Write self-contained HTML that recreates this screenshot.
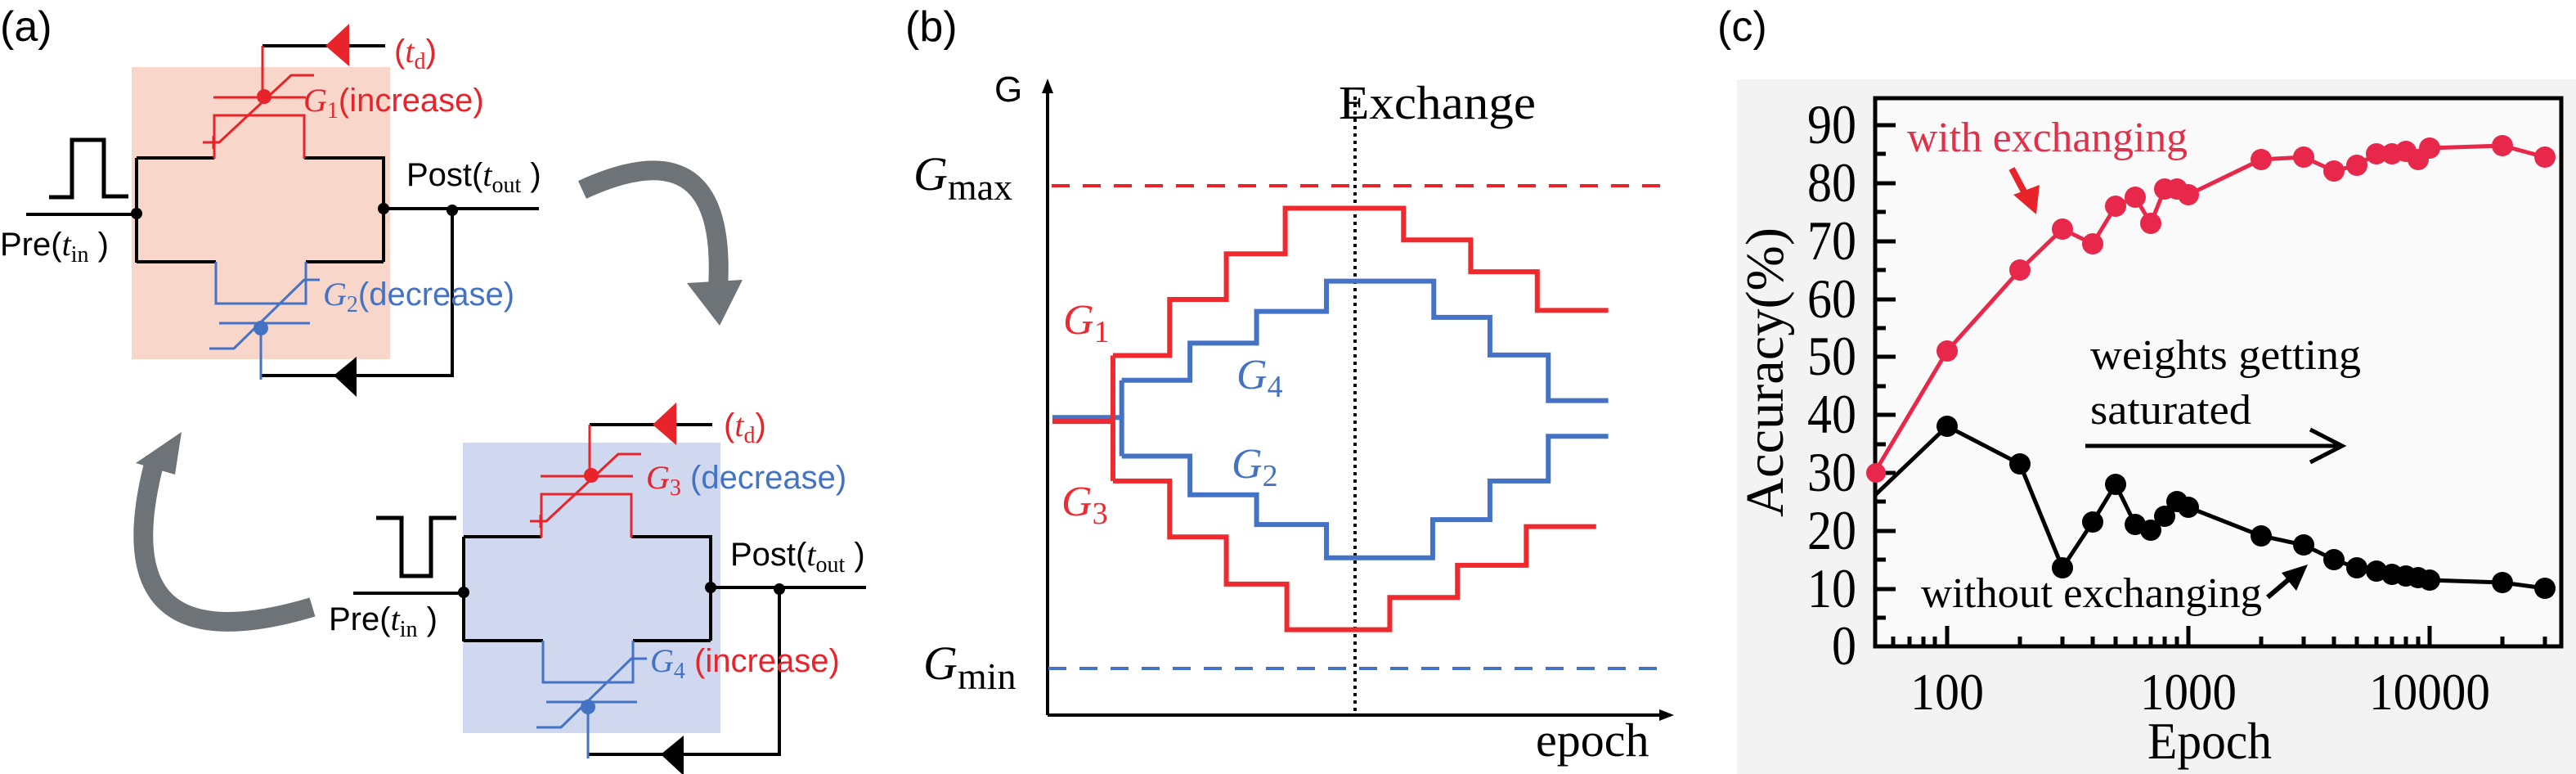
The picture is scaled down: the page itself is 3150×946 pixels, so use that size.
<!DOCTYPE html>
<html><head><meta charset="utf-8"><style>
html,body{margin:0;padding:0;background:#fff;}
svg{display:block;}
.sa{font-family:"Liberation Sans",sans-serif;}
.se{font-family:"Liberation Serif",serif;}
</style></head><body>
<svg width="3150" height="946" viewBox="0 0 3150 946" xmlns="http://www.w3.org/2000/svg">
<!-- ============ Panel (a) ============ -->
<text x="0" y="50" class="sa" font-size="52">(a)</text>

<path d="M712 232 Q 890 150 878 352" fill="none" stroke="#6e7378" stroke-width="24"/>
<polygon points="840,346 908,342 880,398" fill="#6e7378"/>
<path d="M382 742 Q 120 820 190 560" fill="none" stroke="#6e7378" stroke-width="24"/>
<polygon points="166,566 222,528 214,580" fill="#6e7378"/>

<defs>
<g id="circ">
  <g fill="none" stroke="#000" stroke-width="4">
    <path d="M167 193 V321 M167 193 H262 M372 193 H469 V320 M167 320 H264 M374 320 H469"/>
    <path d="M469 255 H659 M32 262 H167"/>
    <path d="M553 257 V459 H319"/>
    <path d="M321 56 H471"/>
  </g>
  <polygon points="398,56 427,29 427,81" fill="#e8242a"/>
  <polygon points="408,459 436,436 436,485" fill="#000"/>
  <circle cx="167" cy="261" r="7" fill="#000"/>
  <circle cx="469" cy="255" r="7" fill="#000"/>
  <circle cx="553" cy="257" r="7" fill="#000"/>
  <g fill="none" stroke="#e8242a" stroke-width="3">
    <path d="M321 56 V118 M261 119 H374 M248 174 H268 L356 92 H384 M262 194 V141 H372 V194 M261 166 V182"/>
  </g>
  <circle cx="323" cy="118" r="9" fill="#e8242a"/>
  <g fill="none" stroke="#4472c4" stroke-width="3">
    <path d="M264 320 V371 H374 V320 M256 426 H286 L372 342 H391 M268 395 H379 M319 401 V464"/>
  </g>
  <circle cx="319" cy="401" r="9" fill="#4472c4"/>
</g>
</defs>
<rect x="161" y="82" width="316" height="357" fill="#f8d6ca"/>
<rect x="566" y="541" width="315" height="355" fill="#cfd8ee"/>
<use href="#circ"/>
<use href="#circ" transform="translate(400,463)"/>
<polyline points="60,241 88,241 88,171 127,171 127,240 157,240" fill="none" stroke="#000" stroke-width="5"/>
<polyline points="460,633 491,633 491,704 527,704 527,633 558,633" fill="none" stroke="#000" stroke-width="5"/>

<text x="482" y="76" fill="#e8242a" font-size="40"><tspan class="sa">(</tspan><tspan class="se" font-style="italic">t</tspan><tspan class="se" font-size="28" dy="8">d</tspan><tspan class="sa" dy="-8">)</tspan></text>
<text x="371" y="136" fill="#e8242a" font-size="40"><tspan class="se" font-style="italic">G</tspan><tspan class="se" font-size="28" dy="8">1</tspan><tspan class="sa" dy="-8">(increase)</tspan></text>
<text x="395" y="373" fill="#4472c4" font-size="40"><tspan class="se" font-style="italic">G</tspan><tspan class="se" font-size="28" dy="8">2</tspan><tspan class="sa" dy="-8">(decrease)</tspan></text>
<text x="497" y="227" font-size="40"><tspan class="sa">Post(</tspan><tspan class="se" font-style="italic">t</tspan><tspan class="se" font-size="28" dy="8">out</tspan><tspan class="sa" dy="-8"> )</tspan></text>
<text x="0" y="312" font-size="40"><tspan class="sa">Pre(</tspan><tspan class="se" font-style="italic">t</tspan><tspan class="se" font-size="28" dy="8">in</tspan><tspan class="sa" dy="-8"> )</tspan></text>
<text x="885" y="533" fill="#e8242a" font-size="40"><tspan class="sa">(</tspan><tspan class="se" font-style="italic">t</tspan><tspan class="se" font-size="28" dy="8">d</tspan><tspan class="sa" dy="-8">)</tspan></text>
<text x="790" y="597" font-size="40"><tspan class="se" font-style="italic" fill="#e8242a">G</tspan><tspan class="se" font-size="28" fill="#e8242a" dy="8">3</tspan><tspan class="sa" fill="#4472c4" dy="-8"> (decrease)</tspan></text>
<text x="795" y="821" font-size="40"><tspan class="se" font-style="italic" fill="#4472c4">G</tspan><tspan class="se" font-size="28" fill="#4472c4" dy="8">4</tspan><tspan class="sa" fill="#e8242a" dy="-8"> (increase)</tspan></text>
<text x="893" y="691" font-size="40"><tspan class="sa">Post(</tspan><tspan class="se" font-style="italic">t</tspan><tspan class="se" font-size="28" dy="8">out</tspan><tspan class="sa" dy="-8"> )</tspan></text>
<text x="402" y="770" font-size="40"><tspan class="sa">Pre(</tspan><tspan class="se" font-style="italic">t</tspan><tspan class="se" font-size="28" dy="8">in</tspan><tspan class="sa" dy="-8"> )</tspan></text>

<!-- ============ Panel (b) ============ -->
<text x="1107" y="50" class="sa" font-size="52">(b)</text>
<g stroke="#000" stroke-width="4" fill="none">
  <path d="M1281 874 V108 M1281 874 H2035"/>
</g>
<polygon points="1281,96 1274,114 1288,114" fill="#000"/>
<polygon points="2047,874 2029,867 2029,881" fill="#000"/>
<text x="1216" y="124" class="sa" font-size="44">G</text>
<line x1="1657" y1="118" x2="1657" y2="874" stroke="#000" stroke-width="4" stroke-dasharray="4,5"/>
<text x="1637" y="145" class="se" font-size="58" textLength="241" lengthAdjust="spacingAndGlyphs">Exchange</text>
<line x1="1286" y1="227" x2="2042" y2="227" stroke="#e8242a" stroke-width="4" stroke-dasharray="22,16"/>
<line x1="1282" y1="817" x2="2037" y2="817" stroke="#4472c4" stroke-width="4" stroke-dasharray="22,16"/>
<text x="1117" y="232" class="se" font-size="58"><tspan font-style="italic">G</tspan><tspan font-size="46" dy="12">max</tspan></text>
<text x="1129" y="830" class="se" font-size="58"><tspan font-style="italic">G</tspan><tspan font-size="46" dy="12">min</tspan></text>
<text x="1878" y="924" class="se" font-size="58">epoch</text>
<g transform="translate(1050,0) scale(0.673,0.606)" fill="none" stroke-width="6">
  <path vector-effect="non-scaling-stroke" stroke="#4472c4" d="M352 842 H478 M478 767 V920 M478 767 H602 V692 H723 V628 H850 V567 H1045 V640 H1147 V716 H1253 V808 H1362 M478 920 H602 V998 H723 V1058 H850 V1125 H1043 V1048 H1147 V970 H1253 V880 H1362"/>
  <path vector-effect="non-scaling-stroke" stroke="#ee2a2f" d="M352 850 H462 M462 717 V970 M462 717 H565 V604 H668 V512 H775 V420 H990 V484 H1112 V548 H1233 V626 H1362 M462 970 H565 V1083 H668 V1178 H778 V1270 H965 V1205 H1088 V1140 H1213 V1062 H1340"/>
</g>
<text x="1300" y="408" fill="#ee2a2f" font-size="52" class="se"><tspan font-style="italic">G</tspan><tspan font-size="38" dy="10">1</tspan></text>
<text x="1298" y="630" fill="#ee2a2f" font-size="52" class="se"><tspan font-style="italic">G</tspan><tspan font-size="38" dy="10">3</tspan></text>
<text x="1512" y="475" fill="#4472c4" font-size="52" class="se"><tspan font-style="italic">G</tspan><tspan font-size="38" dy="10">4</tspan></text>
<text x="1506" y="584" fill="#4472c4" font-size="52" class="se"><tspan font-style="italic">G</tspan><tspan font-size="38" dy="10">2</tspan></text>

<!-- ============ Panel (c) ============ -->
<text x="2100" y="50" class="sa" font-size="52">(c)</text>
<rect x="2124" y="97" width="1026" height="849" fill="#f3f3f3"/>
<rect x="2293" y="120" width="839" height="670" fill="#fafafa" stroke="#000" stroke-width="5"/>
<g stroke="#000" stroke-width="5">
  <path d="M2293 153 H2318 M2293 224 H2318 M2293 295 H2318 M2293 366 H2318 M2293 436 H2318 M2293 507 H2318 M2293 578 H2318 M2293 649 H2318 M2293 720 H2318"/>
  <path d="M2293 188 H2306 M2293 259 H2306 M2293 330 H2306 M2293 401 H2306 M2293 472 H2306 M2293 543 H2306 M2293 613 H2306 M2293 684 H2306 M2293 755 H2306"/>
  <path d="M2381 790 V765 M2676 790 V765 M2971 790 V765"/>
  <path d="M2315 790 V778 M2335 790 V778 M2352 790 V778 M2366 790 V778 M2470 790 V778 M2522 790 V778 M2559 790 V778 M2587 790 V778 M2611 790 V778 M2630 790 V778 M2647 790 V778 M2662 790 V778 M2765 790 V778 M2817 790 V778 M2854 790 V778 M2882 790 V778 M2906 790 V778 M2925 790 V778 M2942 790 V778 M2957 790 V778 M3060 790 V778 M3112 790 V778"/>
</g>
<g class="se" font-size="68" text-anchor="end">
  <text x="2270" y="175" textLength="60" lengthAdjust="spacingAndGlyphs">90</text>
  <text x="2270" y="246" textLength="60" lengthAdjust="spacingAndGlyphs">80</text>
  <text x="2270" y="317" textLength="60" lengthAdjust="spacingAndGlyphs">70</text>
  <text x="2270" y="388" textLength="60" lengthAdjust="spacingAndGlyphs">60</text>
  <text x="2270" y="458" textLength="60" lengthAdjust="spacingAndGlyphs">50</text>
  <text x="2270" y="529" textLength="60" lengthAdjust="spacingAndGlyphs">40</text>
  <text x="2270" y="600" textLength="60" lengthAdjust="spacingAndGlyphs">30</text>
  <text x="2270" y="671" textLength="60" lengthAdjust="spacingAndGlyphs">20</text>
  <text x="2270" y="742" textLength="60" lengthAdjust="spacingAndGlyphs">10</text>
  <text x="2270" y="812" textLength="30" lengthAdjust="spacingAndGlyphs">0</text>
</g>
<g class="se" font-size="64" text-anchor="middle">
  <text x="2381" y="867" textLength="90" lengthAdjust="spacingAndGlyphs">100</text>
  <text x="2676" y="867" textLength="118" lengthAdjust="spacingAndGlyphs">1000</text>
  <text x="2971" y="867" textLength="148" lengthAdjust="spacingAndGlyphs">10000</text>
  <text x="2702" y="927" textLength="152" lengthAdjust="spacingAndGlyphs">Epoch</text>
</g>
<text transform="translate(2180,455) rotate(-90)" class="se" font-size="66" text-anchor="middle" textLength="354" lengthAdjust="spacingAndGlyphs">Accuracy(%)</text>
<polyline fill="none" stroke="#e8284a" stroke-width="5" points="2292,578 2381,429 2470,330 2522,280 2559,298 2587,252 2611,241 2630,273 2647,231 2662,231 2676,238 2765,195 2817,192 2854,209 2882,202 2906,188 2925,188 2942,185 2957,195 2971,181 3060,178 3112,192"/>
<g fill="#e8284a">
  <circle cx="2294" cy="578" r="12"/><circle cx="2381" cy="429" r="13"/><circle cx="2470" cy="330" r="13"/><circle cx="2522" cy="280" r="13"/><circle cx="2559" cy="298" r="13"/><circle cx="2587" cy="252" r="13"/><circle cx="2611" cy="241" r="13"/><circle cx="2630" cy="273" r="13"/><circle cx="2647" cy="231" r="13"/><circle cx="2662" cy="231" r="13"/><circle cx="2676" cy="238" r="13"/><circle cx="2765" cy="195" r="13"/><circle cx="2817" cy="192" r="13"/><circle cx="2854" cy="209" r="13"/><circle cx="2882" cy="202" r="13"/><circle cx="2906" cy="188" r="13"/><circle cx="2925" cy="188" r="13"/><circle cx="2942" cy="185" r="13"/><circle cx="2957" cy="195" r="13"/><circle cx="2971" cy="181" r="13"/><circle cx="3060" cy="178" r="13"/><circle cx="3112" cy="192" r="13"/>
</g>
<polyline fill="none" stroke="#000" stroke-width="5" points="2292,606 2381,521 2470,567 2522,694 2559,638 2587,592 2611,641 2630,648 2647,631 2662,613 2676,620 2765,655 2817,666 2854,684 2882,694 2906,698 2925,702 2942,704 2957,706 2971,709 3060,712 3112,719"/>
<g fill="#000">
  <circle cx="2381" cy="521" r="13"/><circle cx="2470" cy="567" r="13"/><circle cx="2522" cy="694" r="13"/><circle cx="2559" cy="638" r="13"/><circle cx="2587" cy="592" r="13"/><circle cx="2611" cy="641" r="13"/><circle cx="2630" cy="648" r="13"/><circle cx="2647" cy="631" r="13"/><circle cx="2662" cy="613" r="13"/><circle cx="2676" cy="620" r="13"/><circle cx="2765" cy="655" r="13"/><circle cx="2817" cy="666" r="13"/><circle cx="2854" cy="684" r="13"/><circle cx="2882" cy="694" r="13"/><circle cx="2906" cy="698" r="13"/><circle cx="2925" cy="702" r="13"/><circle cx="2942" cy="704" r="13"/><circle cx="2957" cy="706" r="13"/><circle cx="2971" cy="709" r="13"/><circle cx="3060" cy="712" r="13"/><circle cx="3112" cy="719" r="13"/>
</g>
<text x="2332" y="185" class="se" font-size="52" fill="#e0304a" textLength="343" lengthAdjust="spacingAndGlyphs">with exchanging</text>
<line x1="2460" y1="206" x2="2478" y2="240" stroke="#e8242a" stroke-width="8"/>
<polygon points="2462,238 2494,226 2490,262" fill="#e8242a"/>
<text x="2556" y="451" class="se" font-size="52" textLength="331" lengthAdjust="spacingAndGlyphs">weights getting</text>
<text x="2556" y="518" class="se" font-size="52" textLength="197" lengthAdjust="spacingAndGlyphs">saturated</text>
<line x1="2550" y1="545" x2="2862" y2="545" stroke="#000" stroke-width="5"/>
<polyline points="2825,525 2864,545 2825,565" fill="none" stroke="#000" stroke-width="5"/>
<text x="2349" y="742" class="se" font-size="52" textLength="417" lengthAdjust="spacingAndGlyphs">without exchanging</text>
<line x1="2773" y1="730" x2="2800" y2="707" stroke="#000" stroke-width="6"/>
<polygon points="2790,700 2822,690 2808,722" fill="#000"/>
</svg>
</body></html>
